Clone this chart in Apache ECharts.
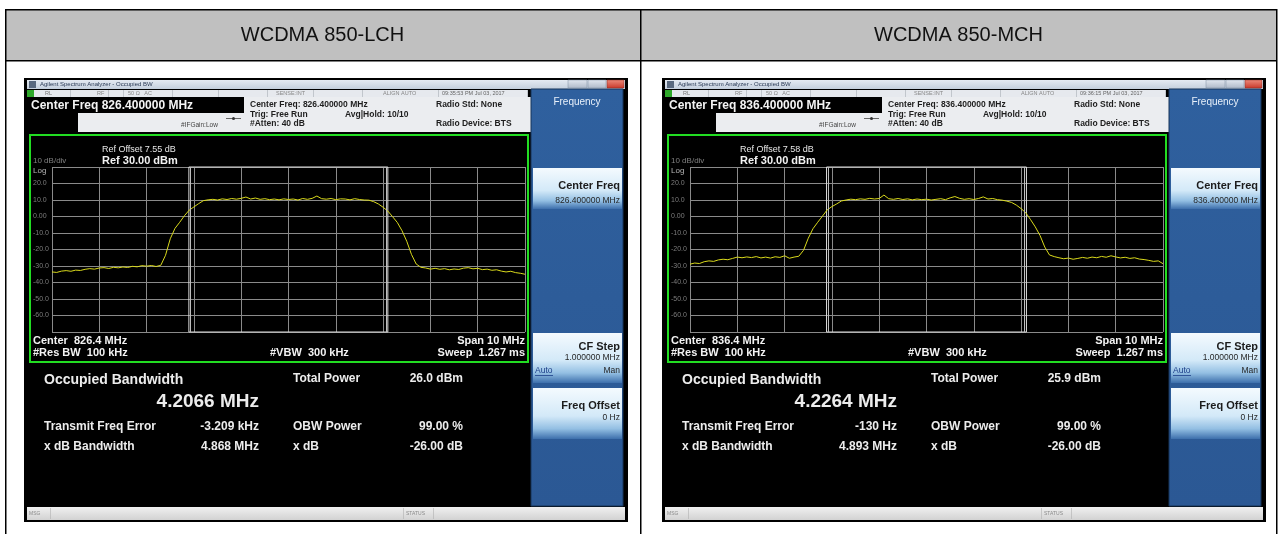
<!DOCTYPE html>
<html><head><meta charset="utf-8">
<script src="https://cdn.jsdelivr.net/npm/echarts@6/dist/echarts.min.js"></script>
<style>html,body{margin:0;padding:0;background:#fff}#c{width:1282px;height:534px}</style>
</head><body><div id="c"></div><script>
// ---------------- data ----------------
const titles = ['WCDMA 850-LCH', 'WCDMA 850-MCH'];
const freqOffsetMHz = [-5.0,-4.9,-4.8,-4.7,-4.6,-4.5,-4.4,-4.3,-4.2,-4.1,
 -4.0,-3.9,-3.8,-3.7,-3.6,-3.5,-3.4,-3.3,-3.2,-3.1,
 -3.0,-2.9,-2.8,-2.7,-2.6,-2.5,-2.4,-2.3,-2.2,-2.1,
 -2.0,-1.9,-1.8,-1.7,-1.6,-1.5,-1.4,-1.3,-1.2,-1.1,
 -1.0,-0.9,-0.8,-0.7,-0.6,-0.5,-0.4,-0.3,-0.2,-0.1,
 0.0,0.1,0.2,0.3,0.4,0.5,0.6,0.7,0.8,0.9,
 1.0,1.1,1.2,1.3,1.4,1.5,1.6,1.7,1.8,1.9,
 2.0,2.1,2.2,2.3,2.4,2.5,2.6,2.7,2.8,2.9,
 3.0,3.1,3.2,3.3,3.4,3.5,3.6,3.7,3.8,3.9,
 4.0,4.1,4.2,4.3,4.4,4.5,4.6,4.7,4.8,4.9,
 5.0];
const traceLCH = [-33.6,-33.9,-33.1,-32.8,-33.2,-32.5,-32.7,-32.0,-31.6,-31.9,
 -31.2,-31.0,-31.5,-30.8,-31.1,-30.6,-30.9,-30.2,-30.5,-29.8,
 -30.1,-29.7,-30.3,-29.6,-23.5,-13.5,-7.2,-3.5,0.5,3.8,
 5.8,7.8,9.6,10.1,10.4,10.0,10.7,10.3,10.9,10.5,
 11.0,11.8,10.6,11.2,10.4,10.8,10.2,10.6,10.1,10.7,
 10.3,10.6,10.0,10.9,10.4,11.0,12.4,10.8,10.5,10.9,
 10.2,10.7,10.6,10.1,10.8,10.3,10.0,9.9,9.0,7.6,
 5.6,3.3,-0.1,-3.6,-8.6,-15.0,-23.0,-28.8,-30.8,-31.2,
 -31.9,-31.4,-32.0,-31.6,-32.3,-31.8,-32.1,-31.3,-31.0,-31.7,
 -31.4,-32.2,-31.9,-32.6,-32.3,-33.1,-33.6,-33.2,-34.0,-34.4,
 -35.0];
const traceMCH = [-28.9,-28.2,-28.5,-27.4,-26.9,-27.2,-26.3,-25.9,-26.2,-25.4,
 -24.6,-25.0,-24.5,-24.9,-24.3,-25.1,-24.6,-25.2,-24.4,-24.8,
 -23.8,-25.3,-24.6,-24.1,-20.5,-13.2,-7.4,-3.5,0.2,4.0,
 6.0,7.6,9.4,10.0,10.5,10.2,10.7,10.4,11.0,10.6,
 10.9,13.0,10.8,10.4,10.9,10.3,10.7,10.1,10.6,10.2,
 10.5,10.0,10.4,10.8,10.2,11.3,12.1,11.0,10.4,10.8,
 10.3,10.9,11.9,10.6,10.9,10.2,9.9,9.3,8.5,6.9,
 4.8,2.2,-1.9,-6.3,-11.5,-18.5,-23.3,-24.3,-25.0,-25.6,
 -25.2,-25.9,-25.4,-24.8,-25.3,-24.6,-25.0,-24.2,-24.7,-23.8,
 -24.5,-25.1,-24.7,-25.4,-25.0,-25.8,-26.1,-26.6,-27.2,-26.9,
 -28.6];
const obwMarkersLCH = [-2.1065, 2.1001];
const obwMarkersMCH = [-2.1133, 2.1131];
const yTickLabels = ['', '20.0', '10.0', '0.00', '-10.0', '-20.0', '-30.0', '-40.0', '-50.0', '-60.0', ''];
// screen texts
const centerFreqLong = ['826.400000 MHz', '836.400000 MHz'];
const centerFreqShort = ['826.4 MHz', '836.4 MHz'];
const timestamps = ['09:35:53 PM Jul 03, 2017', '09:36:15 PM Jul 03, 2017'];
const refOffsets = ['7.55 dB', '7.58 dB'];
const occupiedBW = ['4.2066 MHz', '4.2264 MHz'];
const totalPower = ['26.0 dBm', '25.9 dBm'];
const freqError = ['-3.209 kHz', '-130 Hz'];
const xdBBandwidth = ['4.868 MHz', '4.893 MHz'];
const obwPower = ['99.00 %', '99.00 %'];
const xdB = ['-26.00 dB', '-26.00 dB'];

// ---------------- helpers ----------------
const FONT = '"Liberation Sans", Arial, sans-serif';
const G = (stops) => new echarts.graphic.LinearGradient(0, 0, 0, 1, stops.map((c, i) => (Array.isArray(c) ? {offset: c[0], color: c[1]} : {offset: i / (stops.length - 1), color: c})));
function T(x, y, text, size, color, o) {
  o = o || {};
  const al = o.align || 'left';
  return {type: 'text', x: x, y: y, z: 20, silent: true,
    style: {text: text, fill: color, fontSize: size, fontFamily: FONT, fontWeight: o.bold ? 'bold' : 'normal',
      align: al, textAlign: al, verticalAlign: 'middle', textVerticalAlign: 'middle'}};
}
function R(x, y, w, h, fill, o) {
  o = o || {};
  return {type: 'rect', z: o.z == null ? -8 : o.z, silent: true, shape: {x: x, y: y, width: w, height: h},
    style: {fill: fill, stroke: o.stroke || null, lineWidth: o.lw || 0}};
}
function L(x1, y1, x2, y2, color, w, z) {
  return {type: 'line', z: z == null ? 15 : z, silent: true, shape: {x1: x1, y1: y1, x2: x2, y2: y2}, style: {stroke: color, lineWidth: w || 1}};
}

function screen(k, ox) {
  const X = v => v + ox;
  const e = [];
  // window frame
  e.push(R(X(24), 78, 604, 444, '#000', {z: -12}));
  // title bar
  e.push(R(X(27), 80, 598, 9, G(['#e4eaf2', '#c4cfdd']), {z: -9}));
  e.push(R(X(29), 81, 7, 7, '#5a6a80', {z: -8}));
  e.push(T(X(40), 84.5, 'Agilent Spectrum Analyzer - Occupied BW', 6, '#2a3a55'));
  e.push(R(X(568), 80, 19, 8, G(['#e2e8f0', '#aeb9c8']), {z: -8, stroke: '#7d8ca0', lw: 0.5}));
  e.push(R(X(588), 80, 18, 8, G(['#e2e8f0', '#aeb9c8']), {z: -8, stroke: '#7d8ca0', lw: 0.5}));
  e.push(R(X(607), 80, 17, 8, G(['#ec8a7a', '#c8382a']), {z: -8, stroke: '#8a2a20', lw: 0.5}));
  // status row
  e.push(R(X(27), 90, 501, 7, '#e6e9ee', {z: -9}));
  e.push(R(X(27), 90, 7, 7, '#2ea82a', {z: -8}));
  [70, 108, 123, 172, 218, 267, 313, 362, 438, 527].forEach(v => e.push(L(X(v) + 0.5, 90, X(v) + 0.5, 97, '#a8aeb6', 0.6)));
  e.push(T(X(45), 93.5, 'RL', 5.5, '#777'));
  e.push(T(X(97), 93.5, 'RF', 5.5, '#888'));
  e.push(T(X(128), 93.5, '50 Ω   AC', 5.5, '#888'));
  e.push(T(X(276), 93.5, 'SENSE:INT', 5.5, '#888'));
  e.push(T(X(383), 93.5, 'ALIGN AUTO', 5.5, '#888'));
  e.push(T(X(442), 93.5, timestamps[k], 5.5, '#666'));
  // info area
  e.push(R(X(244), 97, 287, 35, '#ebedf0', {z: -9}));
  e.push(R(X(78), 113, 166, 19, '#ebedf0', {z: -9}));
  e.push(T(X(31), 106, 'Center Freq ' + centerFreqLong[k], 12, '#f4f4f4', {bold: true}));
  e.push(L(X(226), 118.5, X(241), 118.5, '#444', 0.8));
  e.push({type: 'circle', z: 16, silent: true, shape: {cx: X(233.5), cy: 118.5, r: 1.5}, style: {fill: '#333'}});
  e.push(T(X(181), 125, '#IFGain:Low', 6.5, '#444'));
  e.push(T(X(250), 105, 'Center Freq: ' + centerFreqLong[k], 8.5, '#1e1e1e', {bold: true}));
  e.push(T(X(250), 114.5, 'Trig: Free Run', 8.5, '#1e1e1e', {bold: true}));
  e.push(T(X(250), 124, '#Atten: 40 dB', 8.5, '#1e1e1e', {bold: true}));
  e.push(T(X(345), 114.5, 'Avg|Hold: 10/10', 8.5, '#1e1e1e', {bold: true}));
  e.push(T(X(436), 105, 'Radio Std: None', 8.5, '#1e1e1e', {bold: true}));
  e.push(T(X(436), 124, 'Radio Device: BTS', 8.5, '#1e1e1e', {bold: true}));
  // graticule frame
  e.push(R(X(30), 135, 498, 227, '#000', {z: -6, stroke: '#22dd22', lw: 2}));
  e.push(T(X(102), 150, 'Ref Offset ' + refOffsets[k], 9, '#e6e6e6'));
  e.push(T(X(102), 160.5, 'Ref 30.00 dBm', 11, '#f2f2f2', {bold: true}));
  e.push(T(X(33), 161, '10 dB/div', 8, '#808080'));
  e.push(T(X(33), 170.5, 'Log', 8, '#b5b5b5'));
  e.push(T(X(33), 341, 'Center  ' + centerFreqShort[k], 11, '#f2f2f2', {bold: true}));
  e.push(T(X(33), 352.5, '#Res BW  100 kHz', 11, '#f2f2f2', {bold: true}));
  e.push(T(X(270), 352.5, '#VBW  300 kHz', 11, '#f2f2f2', {bold: true}));
  e.push(T(X(525), 341, 'Span 10 MHz', 11, '#f2f2f2', {bold: true, align: 'right'}));
  e.push(T(X(525), 352.5, 'Sweep  1.267 ms', 11, '#f2f2f2', {bold: true, align: 'right'}));
  // measurement area
  const mc = '#ececec';
  e.push(T(X(44), 380.5, 'Occupied Bandwidth', 14, mc, {bold: true}));
  e.push(T(X(259), 401.5, occupiedBW[k], 19, mc, {bold: true, align: 'right'}));
  e.push(T(X(293), 379, 'Total Power', 12, mc, {bold: true}));
  e.push(T(X(463), 379, totalPower[k], 12, mc, {bold: true, align: 'right'}));
  e.push(T(X(44), 427, 'Transmit Freq Error', 12, mc, {bold: true}));
  e.push(T(X(259), 427, freqError[k], 12, mc, {bold: true, align: 'right'}));
  e.push(T(X(293), 427, 'OBW Power', 12, mc, {bold: true}));
  e.push(T(X(463), 427, obwPower[k], 12, mc, {bold: true, align: 'right'}));
  e.push(T(X(44), 447, 'x dB Bandwidth', 12, mc, {bold: true}));
  e.push(T(X(259), 447, xdBBandwidth[k], 12, mc, {bold: true, align: 'right'}));
  e.push(T(X(293), 447, 'x dB', 12, mc, {bold: true}));
  e.push(T(X(463), 447, xdB[k], 12, mc, {bold: true, align: 'right'}));
  // status bar
  e.push(R(X(27), 507, 598, 13, G(['#f0f0f0', '#d2d2d2']), {z: -9}));
  [50, 403, 433].forEach(v => e.push(L(X(v) + 0.5, 508, X(v) + 0.5, 519, '#b0b0b0', 0.6)));
  e.push(T(X(29), 513.5, 'MSG', 5, '#8a8a8a'));
  e.push(T(X(406), 513.5, 'STATUS', 5, '#8a8a8a'));
  // softkey panel
  e.push(R(X(531), 89, 92, 417, G(['#2f609e', '#2b5894']), {z: -9, stroke: '#17345a', lw: 1}));
  e.push(T(X(577), 102, 'Frequency', 10, '#e8f0fa', {align: 'center'}));
  const btn = G([[0, '#f4fafe'], [0.55, '#d3e9f8'], [0.8, '#93bfe3'], [1, '#3d6fac']]);
  e.push(R(X(533), 168, 89, 41, btn, {z: -7}));
  e.push(T(X(620), 186, 'Center Freq', 11, '#1c1c1c', {bold: true, align: 'right'}));
  e.push(T(X(620), 200.5, centerFreqLong[k], 8.5, '#262626', {align: 'right'}));
  e.push(R(X(533), 333, 89, 50, btn, {z: -7}));
  e.push(T(X(620), 347, 'CF Step', 11, '#1c1c1c', {bold: true, align: 'right'}));
  e.push(T(X(620), 358, '1.000000 MHz', 8.5, '#262626', {align: 'right'}));
  e.push(T(X(535), 371, 'Auto', 8.5, '#1d3f88'));
  e.push(L(X(535), 375.5, X(553), 375.5, '#1d3f88', 0.8));
  e.push(T(X(620), 371, 'Man', 8.5, '#262626', {align: 'right'}));
  e.push(R(X(533), 388, 89, 51, btn, {z: -7}));
  e.push(T(X(620), 406, 'Freq Offset', 11, '#1c1c1c', {bold: true, align: 'right'}));
  e.push(T(X(620), 418, '0 Hz', 8.5, '#262626', {align: 'right'}));
  return e;
}

let elements = [];
// table
elements.push(R(5, 9, 1272, 52, '#c0c0c0', {z: -20}));
elements.push(L(5, 9.75, 1277, 9.75, '#000', 1.5, -2));
elements.push(L(5, 60.75, 1277, 60.75, '#000', 1.5, -2));
elements.push(L(5.75, 9, 5.75, 534, '#000', 1.5, -2));
elements.push(L(640.75, 9, 640.75, 534, '#000', 1.5, -2));
elements.push(L(1276.75, 9, 1276.75, 534, '#000', 1.5, -2));
elements.push(T(322.5, 35, titles[0], 20, '#111', {align: 'center'}));
elements.push(T(958.5, 35, titles[1], 20, '#111', {align: 'center'}));
elements = elements.concat(screen(0, 0), screen(1, 638));

function xAx(i) {
  return {gridIndex: i, type: 'value', min: -5, max: 5, interval: 1,
    axisLine: {show: false}, axisTick: {show: false}, axisLabel: {show: false},
    splitLine: {show: true, lineStyle: {color: '#8a8a8a', width: 1}}};
}
function yAx(i) {
  return {gridIndex: i, type: 'value', min: -70, max: 30, interval: 10,
    axisLine: {show: false}, axisTick: {show: false},
    axisLabel: {show: true, align: 'left', margin: 19, fontSize: 7, color: '#7c7c7c', fontFamily: FONT,
      formatter: (v) => yTickLabels[Math.round((30 - v) / 10)]},
    splitLine: {show: true, lineStyle: {color: '#8a8a8a', width: 1}}};
}
function trace(i, ys, obw) {
  return {type: 'line', xAxisIndex: i, yAxisIndex: i, data: freqOffsetMHz.map((f, j) => [f, ys[j]]),
    showSymbol: false, symbol: 'none', silent: true, clip: false,
    lineStyle: {color: '#dada1c', width: 1},
    markArea: {silent: true, itemStyle: {color: 'rgba(0,0,0,0)', borderColor: '#dcdcdc', borderWidth: 1},
      data: [[{xAxis: obw[0], yAxis: 30}, {xAxis: obw[1], yAxis: -70}]]},
    markLine: {silent: true, symbol: 'none', label: {show: false},
      lineStyle: {color: '#bdbdbd', type: 'solid', width: 1},
      data: [{xAxis: obw[0] + 0.04}, {xAxis: obw[1] - 0.04}]}};
}

const chart = echarts.init(document.getElementById('c'), null, {renderer: 'canvas'});
chart.setOption({
  animation: false,
  backgroundColor: '#ffffff',
  graphic: {elements: elements},
  grid: [{left: 52, top: 167, width: 473, height: 165}, {left: 690, top: 167, width: 473, height: 165}],
  xAxis: [xAx(0), xAx(1)],
  yAxis: [yAx(0), yAx(1)],
  series: [trace(0, traceLCH, obwMarkersLCH), trace(1, traceMCH, obwMarkersMCH)]
});
</script></body></html>
